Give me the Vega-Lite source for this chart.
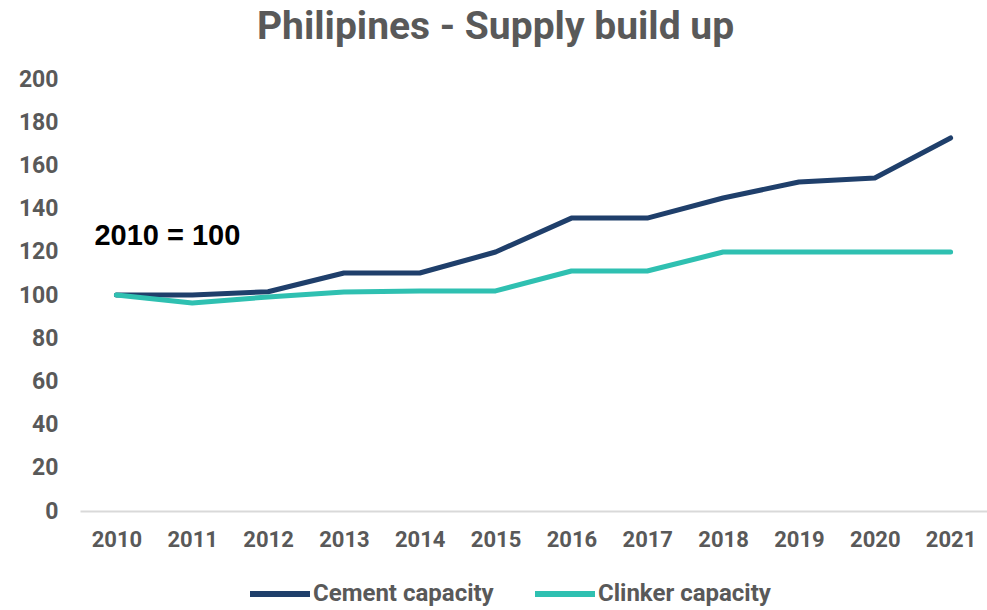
{
  "$schema": "https://vega.github.io/schema/vega-lite/v6.json",
  "width": 907,
  "height": 432,
  "autosize": {"type": "none"},
  "padding": {"left": 80, "top": 79, "right": 0, "bottom": 99},
  "background": "white",
  "title": {
    "text": "Philipines - Supply build up",
    "font": "Roboto",
    "fontSize": 39,
    "fontWeight": "bold",
    "color": "#595959",
    "anchor": "middle",
    "dx": -38,
    "offset": 21
  },
  "config": {
    "view": {"stroke": null},
    "font": "Roboto"
  },
  "datasets": {
    "series": [
      {"year": "2010", "series": "Cement capacity", "value": 100},
      {"year": "2011", "series": "Cement capacity", "value": 100},
      {"year": "2012", "series": "Cement capacity", "value": 101.5},
      {"year": "2013", "series": "Cement capacity", "value": 110.2},
      {"year": "2014", "series": "Cement capacity", "value": 110.2},
      {"year": "2015", "series": "Cement capacity", "value": 119.9},
      {"year": "2016", "series": "Cement capacity", "value": 135.6},
      {"year": "2017", "series": "Cement capacity", "value": 135.6},
      {"year": "2018", "series": "Cement capacity", "value": 144.9},
      {"year": "2019", "series": "Cement capacity", "value": 152.3},
      {"year": "2020", "series": "Cement capacity", "value": 154.2},
      {"year": "2021", "series": "Cement capacity", "value": 172.7},
      {"year": "2010", "series": "Clinker capacity", "value": 100},
      {"year": "2011", "series": "Clinker capacity", "value": 96.3},
      {"year": "2012", "series": "Clinker capacity", "value": 99.1},
      {"year": "2013", "series": "Clinker capacity", "value": 101.4},
      {"year": "2014", "series": "Clinker capacity", "value": 101.9},
      {"year": "2015", "series": "Clinker capacity", "value": 101.9},
      {"year": "2016", "series": "Clinker capacity", "value": 111.1},
      {"year": "2017", "series": "Clinker capacity", "value": 111.1},
      {"year": "2018", "series": "Clinker capacity", "value": 119.9},
      {"year": "2019", "series": "Clinker capacity", "value": 119.9},
      {"year": "2020", "series": "Clinker capacity", "value": 119.9},
      {"year": "2021", "series": "Clinker capacity", "value": 119.9}
    ],
    "note": [{"label": "2010 = 100"}]
  },
  "layer": [
    {
      "data": {"name": "series"},
      "mark": {"type": "line", "strokeWidth": 5, "strokeCap": "round", "strokeJoin": "round"},
      "encoding": {
        "x": {
          "field": "year",
          "type": "ordinal",
          "scale": {"type": "point", "padding": 0.48},
          "axis": {
            "title": null,
            "labelAngle": 0,
            "labelFont": "Roboto",
            "labelFontSize": 22,
            "labelFontWeight": "bold",
            "labelColor": "#595959",
            "labelPadding": 18,
            "ticks": false,
            "domainColor": "#D9D9D9",
            "domainWidth": 2,
            "grid": false
          }
        },
        "y": {
          "field": "value",
          "type": "quantitative",
          "scale": {"domain": [0, 200], "nice": false},
          "axis": {
            "title": null,
            "values": [0, 20, 40, 60, 80, 100, 120, 140, 160, 180, 200],
            "labelFont": "Roboto",
            "labelFontSize": 23,
            "labelFontWeight": "bold",
            "labelColor": "#595959",
            "labelPadding": 22,
            "ticks": false,
            "domain": false,
            "grid": false
          }
        },
        "color": {
          "field": "series",
          "type": "nominal",
          "scale": {"domain": ["Cement capacity", "Clinker capacity"], "range": ["#1F3F6B", "#2FC0B1"]},
          "legend": {
            "title": null,
            "orient": "none",
            "legendX": 167,
            "legendY": 482,
            "direction": "horizontal",
            "symbolType": "stroke",
            "symbolSize": 3600,
            "symbolStrokeWidth": 6,
            "labelFont": "Roboto",
            "labelFontSize": 24,
            "labelFontWeight": "bold",
            "labelColor": "#595959",
            "labelLimit": 400,
            "labelOffset": 0,
            "columnPadding": 29
          }
        }
      }
    },
    {
      "data": {"name": "note"},
      "mark": {"type": "text", "font": "Liberation Sans", "fontSize": 29, "fontWeight": "bold", "color": "#000000", "align": "left", "baseline": "middle", "dx": -22},
      "encoding": {
        "text": {"field": "label"},
        "x": {"datum": "2010"},
        "y": {"datum": 127.3}
      }
    }
  ]
}
